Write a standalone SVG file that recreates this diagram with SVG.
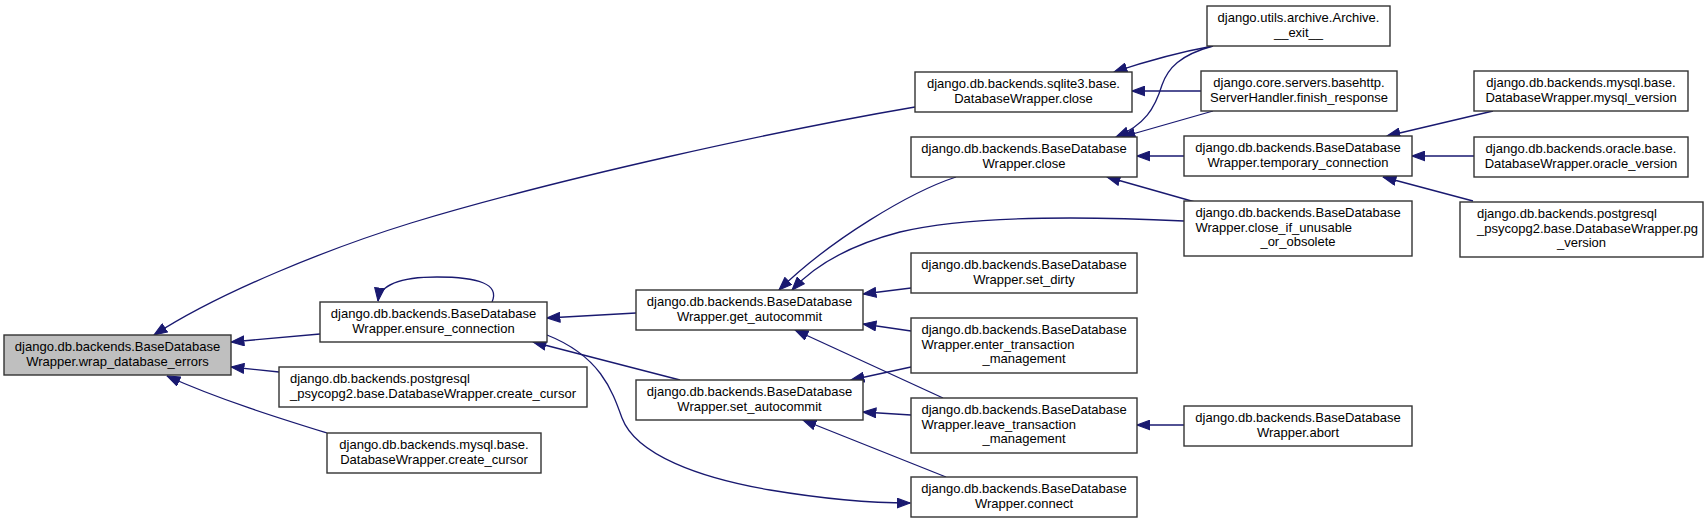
<svg xmlns="http://www.w3.org/2000/svg" width="1708" height="524" viewBox="0 0 1708 524">
<style>
.node rect{fill:#ffffff;stroke:#333333;stroke-width:1.4}
.node.root rect{fill:#bfbfbf}
.node text{font-family:"Liberation Sans",Arial,sans-serif;font-size:13px;fill:#000000}
.c{text-anchor:middle}
.l{text-anchor:start}
.edges path{fill:none;stroke:#191970;stroke-width:1.3;marker-end:url(#arr)}
</style>
<defs>
<marker id="arr" markerUnits="userSpaceOnUse" markerWidth="14" markerHeight="11" viewBox="0 0 13 10" refX="12.5" refY="5" orient="auto">
<path d="M0.5,0.5 L12.5,5 L0.5,9.5 z" fill="#191970" stroke="#191970" stroke-width="1"/>
</marker>
</defs>
<rect x="0" y="0" width="1708" height="524" fill="#ffffff"/>
<g class="edges" id="connectors">
<path d="M915,107 C 780,130 560,178 411,223 C 330,248 220,292 154,335"/>
<path d="M320,334 L231,342"/>
<path d="M279,372 L231,367"/>
<path d="M327,433 C 285,420 220,400 167,376"/>
<path d="M492,302 C 500,284 478,277 437,277 C 402,277 380,284 378,301"/>
<path d="M636,313 L547,318"/>
<path d="M680,380 L533,342"/>
<path d="M547,335 C 600,356 612,390 622,418 C 636,455 700,478 770,490 C 830,500 880,503 910,503"/>
<path d="M956,177 C 910,192 830,240 779,290"/>
<path d="M1184,221 C 1060,215 960,218 900,232 C 850,245 815,265 792,290"/>
<path d="M911,288 L863,294"/>
<path d="M911,331 L863,324"/>
<path d="M943,398 L795,330"/>
<path d="M911,367 L851,380"/>
<path d="M911,415 L863,412"/>
<path d="M946,477 L803,420"/>
<path d="M1213,46 C 1180,52 1150,60 1114,72"/>
<path d="M1201,91 L1132,91"/>
<path d="M1213,46 C 1180,55 1168,68 1162,85 C 1155,108 1145,125 1116,137"/>
<path d="M1213,111 L1122,137"/>
<path d="M1184,156 L1137,156"/>
<path d="M1195,202 L1107,177"/>
<path d="M1493,111 L1387,136"/>
<path d="M1474,156 L1412,156"/>
<path d="M1473,201 L1383,177"/>
<path d="M1184,425 L1137,425"/>
</g>
<g class="node root" id="wrap_database_errors">
<rect x="4" y="335" width="227" height="40"/>
<text class="c" x="117.5" y="351">django.db.backends.BaseDatabase</text>
<text class="c" x="117.5" y="365.5">Wrapper.wrap_database_errors</text>
</g>
<g class="node" id="ensure_connection">
<rect x="320" y="302" width="227" height="40"/>
<text class="c" x="433.5" y="318">django.db.backends.BaseDatabase</text>
<text class="c" x="433.5" y="332.5">Wrapper.ensure_connection</text>
</g>
<g class="node" id="pg_create_cursor">
<rect x="279" y="367" width="308" height="40"/>
<text class="l" x="290" y="383">django.db.backends.postgresql</text>
<text class="c" x="433" y="397.5">_psycopg2.base.DatabaseWrapper.create_cursor</text>
</g>
<g class="node" id="mysql_create_cursor">
<rect x="327" y="433" width="214" height="40"/>
<text class="c" x="434" y="449">django.db.backends.mysql.base.</text>
<text class="c" x="434" y="463.5">DatabaseWrapper.create_cursor</text>
</g>
<g class="node" id="get_autocommit">
<rect x="636" y="290" width="227" height="40"/>
<text class="c" x="749.5" y="306">django.db.backends.BaseDatabase</text>
<text class="c" x="749.5" y="320.5">Wrapper.get_autocommit</text>
</g>
<g class="node" id="set_autocommit">
<rect x="636" y="380" width="227" height="40"/>
<text class="c" x="749.5" y="396">django.db.backends.BaseDatabase</text>
<text class="c" x="749.5" y="410.5">Wrapper.set_autocommit</text>
</g>
<g class="node" id="sqlite3_close">
<rect x="915" y="72" width="217" height="40"/>
<text class="c" x="1023.5" y="88">django.db.backends.sqlite3.base.</text>
<text class="c" x="1023.5" y="102.5">DatabaseWrapper.close</text>
</g>
<g class="node" id="close">
<rect x="911" y="137" width="226" height="40"/>
<text class="c" x="1024" y="153">django.db.backends.BaseDatabase</text>
<text class="c" x="1024" y="167.5">Wrapper.close</text>
</g>
<g class="node" id="set_dirty">
<rect x="911" y="253" width="226" height="40"/>
<text class="c" x="1024" y="269">django.db.backends.BaseDatabase</text>
<text class="c" x="1024" y="283.5">Wrapper.set_dirty</text>
</g>
<g class="node" id="enter_transaction_management">
<rect x="911" y="318" width="226" height="55"/>
<text class="l" x="921.5" y="334">django.db.backends.BaseDatabase</text>
<text class="l" x="921.5" y="348.5">Wrapper.enter_transaction</text>
<text class="c" x="1024" y="363">_management</text>
</g>
<g class="node" id="leave_transaction_management">
<rect x="911" y="398" width="226" height="55"/>
<text class="l" x="921.5" y="414">django.db.backends.BaseDatabase</text>
<text class="l" x="921.5" y="428.5">Wrapper.leave_transaction</text>
<text class="c" x="1024" y="443">_management</text>
</g>
<g class="node" id="connect">
<rect x="911" y="477" width="226" height="40"/>
<text class="c" x="1024" y="493">django.db.backends.BaseDatabase</text>
<text class="c" x="1024" y="507.5">Wrapper.connect</text>
</g>
<g class="node" id="archive_exit">
<rect x="1207" y="6" width="183" height="40"/>
<text class="c" x="1298.5" y="22">django.utils.archive.Archive.</text>
<text class="c" x="1298.5" y="36.5">__exit__</text>
</g>
<g class="node" id="finish_response">
<rect x="1201" y="71" width="196" height="40"/>
<text class="c" x="1299" y="87">django.core.servers.basehttp.</text>
<text class="c" x="1299" y="101.5">ServerHandler.finish_response</text>
</g>
<g class="node" id="temporary_connection">
<rect x="1184" y="136" width="228" height="40"/>
<text class="c" x="1298" y="152">django.db.backends.BaseDatabase</text>
<text class="c" x="1298" y="166.5">Wrapper.temporary_connection</text>
</g>
<g class="node" id="close_if_unusable_or_obsolete">
<rect x="1184" y="201" width="228" height="55"/>
<text class="l" x="1195.5" y="217">django.db.backends.BaseDatabase</text>
<text class="l" x="1195.5" y="231.5">Wrapper.close_if_unusable</text>
<text class="c" x="1298" y="246">_or_obsolete</text>
</g>
<g class="node" id="abort">
<rect x="1184" y="406" width="228" height="40"/>
<text class="c" x="1298" y="422">django.db.backends.BaseDatabase</text>
<text class="c" x="1298" y="436.5">Wrapper.abort</text>
</g>
<g class="node" id="mysql_version">
<rect x="1474" y="71" width="214" height="40"/>
<text class="c" x="1581" y="87">django.db.backends.mysql.base.</text>
<text class="c" x="1581" y="101.5">DatabaseWrapper.mysql_version</text>
</g>
<g class="node" id="oracle_version">
<rect x="1474" y="137" width="214" height="40"/>
<text class="c" x="1581" y="153">django.db.backends.oracle.base.</text>
<text class="c" x="1581" y="167.5">DatabaseWrapper.oracle_version</text>
</g>
<g class="node" id="pg_version">
<rect x="1460" y="202" width="243" height="55"/>
<text class="l" x="1477" y="218">django.db.backends.postgresql</text>
<text class="l" x="1477" y="232.5">_psycopg2.base.DatabaseWrapper.pg</text>
<text class="c" x="1581.5" y="247">_version</text>
</g>
</svg>
